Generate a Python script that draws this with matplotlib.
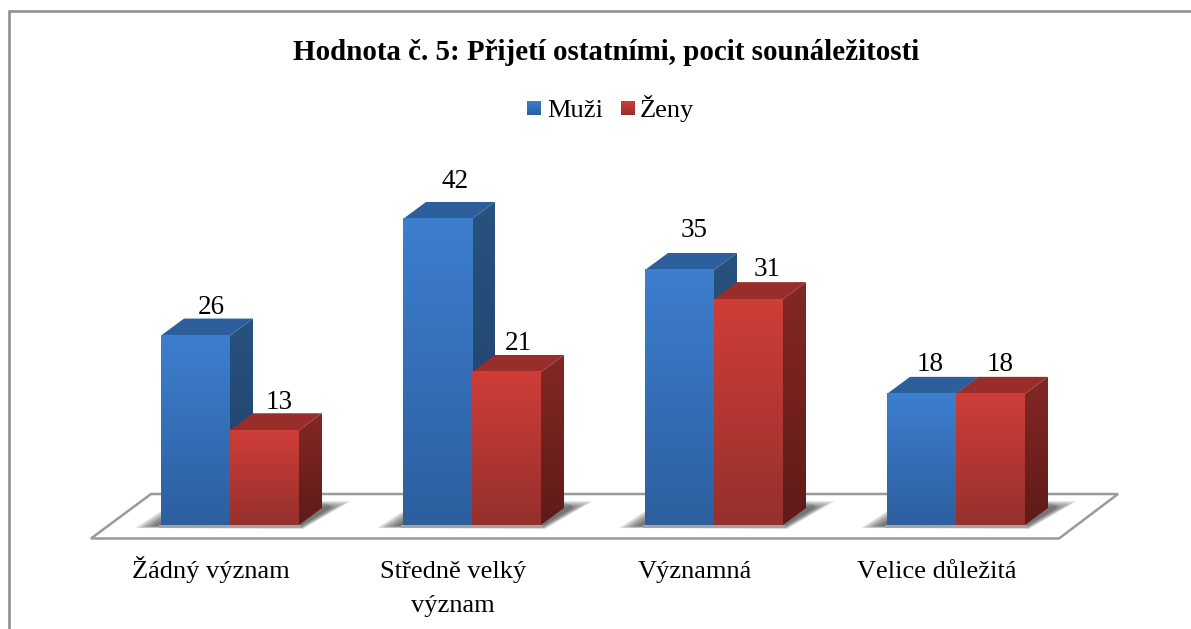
import numpy as np
import matplotlib
matplotlib.use('Agg')
import matplotlib.pyplot as plt
from matplotlib.patches import Polygon, Rectangle
from matplotlib.colors import LinearSegmentedColormap

categories = ['Žádný význam', 'Středně velký\nvýznam', 'Významná', 'Velice důležitá']
muzi = [26, 42, 35, 18]
zeny = [13, 21, 31, 18]

# nudges for the value labels, in pixels
muzi_dx, muzi_dy = [16, 18, 15, 9], [28, 37, 39, 29]
zeny_dx, zeny_dy = [15, 12, 19, 10], [28, 28, 30, 29]

W, H = 1191, 629
CAT = 242.0      # pixels per category
UNIT = 7.286     # pixels per value unit
X0, Y0 = 230, 525  # pixel of category 0 / value 0
BAR = 69 / CAT
DX, DY = 23 / CAT, 17 / UNIT

plt.rcParams['font.family'] = ['Liberation Serif', 'DejaVu Serif']
plt.rcParams['text.kerning_factor'] = 6

fig = plt.figure(figsize=(W / 100, H / 100), dpi=100)
ax = fig.add_axes([0, 0, 1, 1])
ax.axis('off')


def px(x, y):
    return (x - X0) / CAT, (Y0 - y) / UNIT


def grad(xs, ys, top, bottom, zorder, clip=True):
    # vertical gradient, clipped to a polygon when the face is slanted
    cmap = LinearSegmentedColormap.from_list('g', [bottom, top])
    xs, ys = np.array(xs), np.array(ys)
    im = ax.imshow(np.linspace(1, 0, 64).reshape(-1, 1), cmap=cmap, aspect='auto',
                   extent=[xs.min(), xs.max(), ys.min(), ys.max()], zorder=zorder,
                   interpolation='bilinear', vmin=0, vmax=1)
    if clip:
        patch = Polygon(np.column_stack([xs, ys]), closed=True, transform=ax.transData,
                        fc='none', ec='none')
        ax.add_patch(patch)
        im.set_clip_path(patch)


def bar3d(x, v, front, side, top, z):
    grad([x + BAR, x + BAR + DX, x + BAR + DX, x + BAR],
         [0, DY, v + DY, v], side[0], side[1], z + 0.1)
    ax.add_patch(Polygon([[x, v], [x + BAR, v], [x + BAR + DX, v + DY], [x + DX, v + DY]],
                         fc=top, ec='none', zorder=z + 0.1))
    grad([x, x + BAR, x + BAR, x], [0, 0, v, v], front[0], front[1], z + 0.2, clip=False)


# floor
floor = [px(91, 538.5), px(151, 494), px(1118, 494), px(1059, 538.5)]
ax.add_patch(Polygon(floor, closed=True, fc='white', ec='#9a9a9a', lw=1.8, zorder=1,
                     joinstyle='miter'))

blue = dict(front=('#3d7ecf', '#2d5f9f'), side=('#28527f', '#1f3f68'), top='#2c5f9c')
red = dict(front=('#cf3d38', '#96302c'), side=('#842824', '#5f1b18'), top='#992d29')

# shadow outline around a bar pair, pixels from the pair's front left corner
shadow_outer = np.array([[-26, 3], [142, 4], [190, -24], [150, -24], [0, -14]], dtype=float)
shadow_inner = np.array([[-6, 1], [139, 1], [166, -15], [172, -19], [0, -3]], dtype=float)

for i in range(len(categories)):
    x = i - BAR
    # soft shadow on the floor
    for k in range(10):
        t = k / 9
        pts = shadow_outer * (1 - t) + shadow_inner * t
        ax.add_patch(Polygon([[x + p[0] / CAT, -p[1] / UNIT] for p in pts],
                             fc='#3c3c3c', ec='none', alpha=0.11, zorder=1.5))
    ax.add_patch(Rectangle((x - 2 / CAT, -3 / UNIT), 2 * BAR + 4 / CAT, 3 / UNIT, fc='#a4a4a4',
                           ec='none', zorder=1.6))

    bar3d(x, muzi[i], z=2, **blue)
    bar3d(i, zeny[i], z=3, **red)

    cx = x + BAR / 2
    ax.text(cx + muzi_dx[i] / CAT, muzi[i] + muzi_dy[i] / UNIT, str(muzi[i]), ha='center',
            va='center', fontsize=19.5, color='black', zorder=5)
    cx = i + BAR / 2
    ax.text(cx + zeny_dx[i] / CAT, zeny[i] + zeny_dy[i] / UNIT, str(zeny[i]), ha='center',
            va='center', fontsize=19.5, color='black', zorder=5)

    for j, line in enumerate(categories[i].split('\n')):
        lx, ly = px(211 + i * CAT, 578 + j * 34)
        ax.text(lx, ly, line, ha='center', va='baseline', fontsize=19, color='black', zorder=5)

# title and legend
tx, ty = px(606, 60)
ax.text(tx, ty, 'Hodnota č. 5: Přijetí ostatními, pocit sounáležitosti', ha='center', va='baseline',
        fontsize=20.9, fontweight='bold', color='black')

for sx, name, tex, c in [(527, 'Muži', 547, blue), (621, 'Ženy', 640, red)]:
    x1, y1 = px(sx, 115.5)
    x2, y2 = px(sx + 14, 101.5)
    grad([x1, x2, x2, x1], [y1, y1, y2, y2], c['front'][0], c['front'][1], 4, clip=False)
    lx, ly = px(tex, 117)
    ax.text(lx, ly, name, ha='left', va='baseline', fontsize=19, color='black')

# chart frame: left and top only, the rest is cut off
fx1, fy1 = px(9, 11)
fx2, _ = px(W, 11)
_, fy2 = px(0, H)
ax.plot([fx1, fx1, fx2], [fy2, fy1, fy1], color='#8f8f8f', lw=1.9, zorder=6,
        solid_joinstyle='miter')

ax.set_xlim(-X0 / CAT, (W - X0) / CAT)
ax.set_ylim((Y0 - H) / UNIT, Y0 / UNIT)

fig.savefig('out.png', dpi=100, facecolor='white')
